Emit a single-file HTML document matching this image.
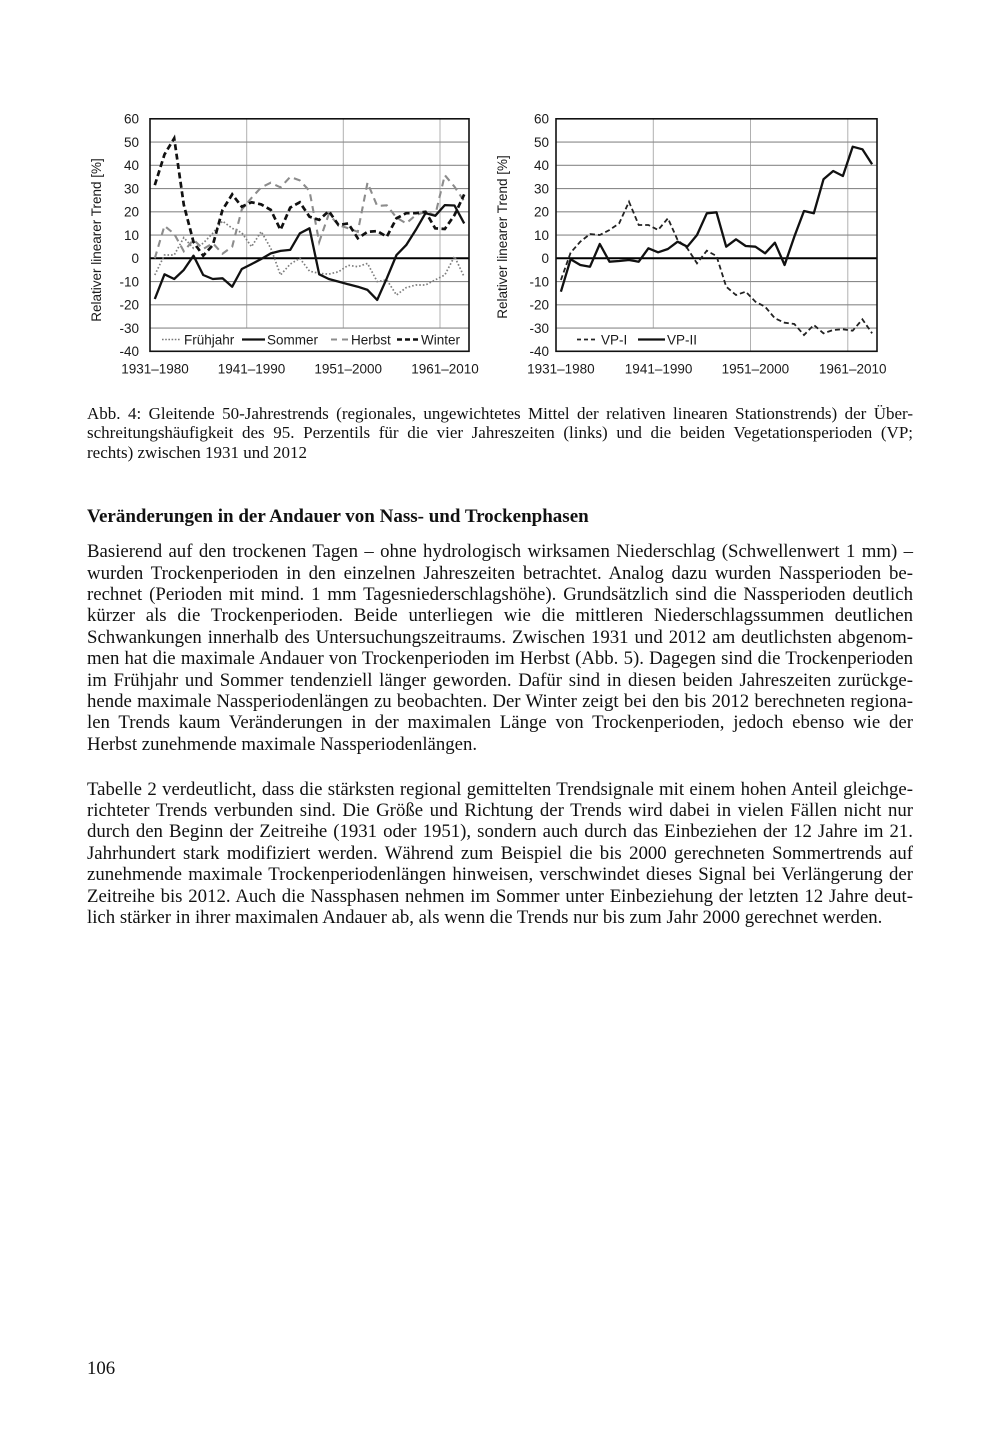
<!DOCTYPE html>
<html><head><meta charset="utf-8">
<style>
html,body{margin:0;padding:0;background:#fff;}
body{width:1000px;height:1439px;position:relative;overflow:hidden;}
svg{position:absolute;left:0;top:0;}
.t{font-family:"Liberation Sans",Arial,sans-serif;fill:#1a1a1a;}
.ln{position:absolute;left:87px;width:826px;font-family:"Liberation Serif","Times New Roman",serif;color:#111;white-space:nowrap;text-align:justify;text-align-last:justify;}
.cap{font-size:17px;line-height:19.6px;}
.bd{font-size:18.8px;line-height:21.4px;}
.last{text-align:left;text-align-last:left;}
</style></head><body>
<svg width="1000" height="400" viewBox="0 0 1000 400">
<!-- LEFT CHART -->
<g>
<g stroke="#b0b0b0" stroke-width="1">
<line x1="246.7" y1="118.8" x2="246.7" y2="328"/>
<line x1="343.3" y1="118.8" x2="343.3" y2="328"/>
<line x1="440" y1="118.8" x2="440" y2="328"/>
</g>
<g stroke="#8a8a8a" stroke-width="1.1">
<line x1="150" y1="142.05" x2="469" y2="142.05"/>
<line x1="150" y1="165.3" x2="469" y2="165.3"/>
<line x1="150" y1="188.55" x2="469" y2="188.55"/>
<line x1="150" y1="211.8" x2="469" y2="211.8"/>
<line x1="150" y1="235.05" x2="469" y2="235.05"/>
<line x1="150" y1="281.55" x2="469" y2="281.55"/>
<line x1="150" y1="304.8" x2="469" y2="304.8"/>
<line x1="150" y1="328.05" x2="469" y2="328.05"/>
</g>
<line x1="150" y1="258.3" x2="469" y2="258.3" stroke="#000" stroke-width="2"/>
<polyline fill="none" stroke="#7e7e7e" stroke-width="1.7" stroke-dasharray="1.6 2" points="154.8,275.0 164.5,255.0 174.2,255.0 183.8,237.6 193.5,248.3 203.2,243.2 212.8,233.2 222.5,221.1 232.2,228.3 241.8,232.7 251.5,246.7 261.2,231.6 270.8,248.3 280.5,275.0 290.2,264.1 299.8,258.3 309.5,271.1 319.2,273.4 328.8,274.1 338.5,271.8 348.2,265.3 357.8,266.7 367.5,263.4 377.2,281.6 386.8,279.9 396.5,295.0 406.2,287.6 415.8,285.0 425.5,285.0 435.2,279.9 444.8,275.0 454.5,256.4 464.2,276.9"/>
<polyline fill="none" stroke="#8c8c8c" stroke-width="2.1" stroke-dasharray="7 5" points="154.8,258.3 164.5,225.8 174.2,233.9 183.8,251.3 193.5,239.7 203.2,249.0 212.8,243.2 222.5,253.7 232.2,246.7 241.8,209.5 251.5,197.9 261.2,187.4 270.8,182.7 280.5,187.4 290.2,176.9 299.8,180.4 309.5,190.9 319.2,242.0 328.8,214.1 338.5,225.0 348.2,228.3 357.8,231.8 367.5,182.7 377.2,206.0 386.8,205.3 396.5,217.6 406.2,223.4 415.8,215.1 425.5,211.8 435.2,215.3 444.8,175.1 454.5,186.7 464.2,201.3"/>
<polyline fill="none" stroke="#111" stroke-width="2.3" stroke-linejoin="round" points="154.8,299.0 164.5,274.3 174.2,279.0 183.8,269.9 193.5,255.7 203.2,275.0 212.8,279.0 222.5,278.3 232.2,286.7 241.8,269.0 251.5,264.1 261.2,259.0 270.8,253.4 280.5,250.9 290.2,249.9 299.8,233.4 309.5,228.3 319.2,274.3 328.8,279.0 338.5,281.6 348.2,284.3 357.8,286.7 367.5,289.9 377.2,299.9 386.8,278.3 396.5,255.0 406.2,245.1 415.8,229.9 425.5,213.2 435.2,215.8 444.8,205.1 454.5,205.5 464.2,223.4"/>
<polyline fill="none" stroke="#111" stroke-width="2.7" stroke-dasharray="6 3.5" points="154.8,185.1 164.5,154.4 174.2,138.3 183.8,204.8 193.5,242.0 203.2,255.7 212.8,245.1 222.5,209.9 232.2,194.4 241.8,206.7 251.5,202.3 261.2,204.4 270.8,209.9 280.5,229.9 290.2,207.6 299.8,202.3 309.5,216.7 319.2,219.9 328.8,211.1 338.5,225.0 348.2,223.4 357.8,238.3 367.5,231.8 377.2,231.1 386.8,236.7 396.5,218.3 406.2,213.2 415.8,213.2 425.5,211.8 435.2,228.3 444.8,229.0 454.5,215.1 464.2,194.4"/>
<rect x="151" y="329" width="317" height="21.5" fill="#fff"/>
<line x1="162" y1="339.5" x2="180" y2="339.5" stroke="#777" stroke-width="1.6" stroke-dasharray="1.6 1.6"/>
<text class="t" x="184" y="344.3" font-size="13.5">Frühjahr</text>
<line x1="242" y1="339.5" x2="265" y2="339.5" stroke="#111" stroke-width="2.3"/>
<text class="t" x="267" y="344.3" font-size="13.5">Sommer</text>
<line x1="331" y1="339.5" x2="349" y2="339.5" stroke="#8c8c8c" stroke-width="2" stroke-dasharray="6 5"/>
<text class="t" x="351" y="344.3" font-size="13.5">Herbst</text>
<line x1="397" y1="339.5" x2="418" y2="339.5" stroke="#111" stroke-width="2.6" stroke-dasharray="5 3"/>
<text class="t" x="421" y="344.3" font-size="13.5">Winter</text>
<rect x="150" y="118.8" width="319" height="232.5" fill="none" stroke="#111" stroke-width="1.6"/>
<g class="t" font-size="13.5" text-anchor="end">
<text x="139" y="123.5">60</text>
<text x="139" y="146.8">50</text>
<text x="139" y="170">40</text>
<text x="139" y="193.3">30</text>
<text x="139" y="216.5">20</text>
<text x="139" y="239.8">10</text>
<text x="139" y="263">0</text>
<text x="139" y="286.3">-10</text>
<text x="139" y="309.5">-20</text>
<text x="139" y="332.8">-30</text>
<text x="139" y="356">-40</text>
</g>
<g class="t" font-size="13.5" text-anchor="middle">
<text x="155" y="373.3">1931–1980</text>
<text x="251.5" y="373.3">1941–1990</text>
<text x="348.2" y="373.3">1951–2000</text>
<text x="445" y="373.3">1961–2010</text>
</g>
<text class="t" font-size="13.5" text-anchor="middle" transform="translate(101,240) rotate(-90)">Relativer linearer Trend [%]</text>
</g>

<!-- RIGHT CHART -->
<g>
<g stroke="#b0b0b0" stroke-width="1">
<line x1="653.3" y1="118.8" x2="653.3" y2="328"/>
<line x1="750.5" y1="118.8" x2="750.5" y2="351"/>
<line x1="847.8" y1="118.8" x2="847.8" y2="351"/>
</g>
<g stroke="#8a8a8a" stroke-width="1.1">
<line x1="556" y1="142.05" x2="877" y2="142.05"/>
<line x1="556" y1="165.3" x2="877" y2="165.3"/>
<line x1="556" y1="188.55" x2="877" y2="188.55"/>
<line x1="556" y1="211.8" x2="877" y2="211.8"/>
<line x1="556" y1="235.05" x2="877" y2="235.05"/>
<line x1="556" y1="281.55" x2="877" y2="281.55"/>
<line x1="556" y1="304.8" x2="877" y2="304.8"/>
<line x1="556" y1="328.05" x2="877" y2="328.05"/>
</g>
<line x1="556" y1="258.3" x2="877" y2="258.3" stroke="#000" stroke-width="2"/>
<polyline fill="none" stroke="#222" stroke-width="1.8" stroke-dasharray="5 3" points="560.9,280.0 570.6,252.7 580.3,241.7 590.0,234.0 599.8,235.0 609.5,230.0 619.2,223.3 629.0,201.7 638.7,225.0 648.4,225.0 658.1,230.0 667.9,218.3 677.6,240.0 687.3,248.3 697.0,263.3 706.8,250.7 716.5,256.0 726.2,286.7 736.0,295.0 745.7,291.7 755.4,301.7 765.1,306.7 774.9,318.3 784.6,322.7 794.3,324.0 804.0,335.0 813.8,325.0 823.5,333.3 833.2,330.0 842.9,329.3 852.7,330.7 862.4,319.3 872.1,333.3"/>
<polyline fill="none" stroke="#111" stroke-width="2.3" stroke-linejoin="round" points="560.9,291.7 570.6,259.3 580.3,265.0 590.0,266.7 599.8,244.0 609.5,261.7 619.2,261.0 629.0,260.0 638.7,261.7 648.4,248.3 658.1,252.3 667.9,249.0 677.6,241.7 687.3,246.7 697.0,235.0 706.8,213.3 716.5,212.3 726.2,246.7 736.0,239.3 745.7,246.0 755.4,246.7 765.1,253.3 774.9,242.7 784.6,265.0 794.3,236.7 804.0,211.0 813.8,213.3 823.5,179.3 833.2,171.0 842.9,176.0 852.7,146.7 862.4,149.3 872.1,164.3"/>
<rect x="557" y="329" width="150" height="21.5" fill="#fff"/>
<line x1="577" y1="339.5" x2="598" y2="339.5" stroke="#222" stroke-width="1.8" stroke-dasharray="4 3"/>
<text class="t" x="601" y="344.3" font-size="13.5">VP-I</text>
<line x1="638" y1="339.5" x2="665" y2="339.5" stroke="#111" stroke-width="2.3"/>
<text class="t" x="667" y="344.3" font-size="13.5">VP-II</text>
<rect x="556" y="118.8" width="321" height="232.5" fill="none" stroke="#111" stroke-width="1.6"/>
<g class="t" font-size="13.5" text-anchor="end">
<text x="549" y="123.5">60</text>
<text x="549" y="146.8">50</text>
<text x="549" y="170">40</text>
<text x="549" y="193.3">30</text>
<text x="549" y="216.5">20</text>
<text x="549" y="239.8">10</text>
<text x="549" y="263">0</text>
<text x="549" y="286.3">-10</text>
<text x="549" y="309.5">-20</text>
<text x="549" y="332.8">-30</text>
<text x="549" y="356">-40</text>
</g>
<g class="t" font-size="13.5" text-anchor="middle">
<text x="560.9" y="373.3">1931–1980</text>
<text x="658.6" y="373.3">1941–1990</text>
<text x="755.4" y="373.3">1951–2000</text>
<text x="852.7" y="373.3">1961–2010</text>
</g>
<text class="t" font-size="13.5" text-anchor="middle" transform="translate(507,237) rotate(-90)">Relativer linearer Trend [%]</text>
</g>
</svg>

<!-- Caption -->
<div class="ln cap" style="top:403.5px">Abb. 4: Gleitende 50-Jahrestrends (regionales, ungewichtetes Mittel der relativen linearen Stationstrends) der Über-</div>
<div class="ln cap" style="top:423.1px">schreitungshäufigkeit des 95. Perzentils für die vier Jahreszeiten (links) und die beiden Vegetationsperioden (VP;</div>
<div class="ln cap last" style="top:442.7px">rechts) zwischen 1931 und 2012</div>

<!-- Heading -->
<div class="ln last" style="top:505.9px;font-size:19px;line-height:22px;font-weight:bold;">Veränderungen in der Andauer von Nass- und Trockenphasen</div>

<!-- Paragraph 1 -->
<div class="ln bd" style="top:541.2px">Basierend auf den trockenen Tagen – ohne hydrologisch wirksamen Niederschlag (Schwellenwert 1 mm) –</div>
<div class="ln bd" style="top:562.6px">wurden Trockenperioden in den einzelnen Jahreszeiten betrachtet. Analog dazu wurden Nassperioden be-</div>
<div class="ln bd" style="top:584.0px">rechnet (Perioden mit mind. 1 mm Tagesniederschlagshöhe). Grundsätzlich sind die Nassperioden deutlich</div>
<div class="ln bd" style="top:605.4px">kürzer als die Trockenperioden. Beide unterliegen wie die mittleren Niederschlagssummen deutlichen</div>
<div class="ln bd" style="top:626.8px">Schwankungen innerhalb des Untersuchungszeitraums. Zwischen 1931 und 2012 am deutlichsten abgenom-</div>
<div class="ln bd" style="top:648.2px">men hat die maximale Andauer von Trockenperioden im Herbst (Abb. 5). Dagegen sind die Trockenperioden</div>
<div class="ln bd" style="top:669.6px">im Frühjahr und Sommer tendenziell länger geworden. Dafür sind in diesen beiden Jahreszeiten zurückge-</div>
<div class="ln bd" style="top:691.0px">hende maximale Nassperiodenlängen zu beobachten. Der Winter zeigt bei den bis 2012 berechneten regiona-</div>
<div class="ln bd" style="top:712.4px">len Trends kaum Veränderungen in der maximalen Länge von Trockenperioden, jedoch ebenso wie der</div>
<div class="ln bd last" style="top:733.8px">Herbst zunehmende maximale Nassperiodenlängen.</div>

<!-- Paragraph 2 -->
<div class="ln bd" style="top:778.6px">Tabelle 2 verdeutlicht, dass die stärksten regional gemittelten Trendsignale mit einem hohen Anteil gleichge-</div>
<div class="ln bd" style="top:800.0px">richteter Trends verbunden sind. Die Größe und Richtung der Trends wird dabei in vielen Fällen nicht nur</div>
<div class="ln bd" style="top:821.4px">durch den Beginn der Zeitreihe (1931 oder 1951), sondern auch durch das Einbeziehen der 12 Jahre im 21.</div>
<div class="ln bd" style="top:842.8px">Jahrhundert stark modifiziert werden. Während zum Beispiel die bis 2000 gerechneten Sommertrends auf</div>
<div class="ln bd" style="top:864.2px">zunehmende maximale Trockenperiodenlängen hinweisen, verschwindet dieses Signal bei Verlängerung der</div>
<div class="ln bd" style="top:885.6px">Zeitreihe bis 2012. Auch die Nassphasen nehmen im Sommer unter Einbeziehung der letzten 12 Jahre deut-</div>
<div class="ln bd last" style="top:907.0px">lich stärker in ihrer maximalen Andauer ab, als wenn die Trends nur bis zum Jahr 2000 gerechnet werden.</div>

<!-- Page number -->
<div class="ln bd last" style="top:1358px;font-size:18.8px;">106</div>
</body></html>
